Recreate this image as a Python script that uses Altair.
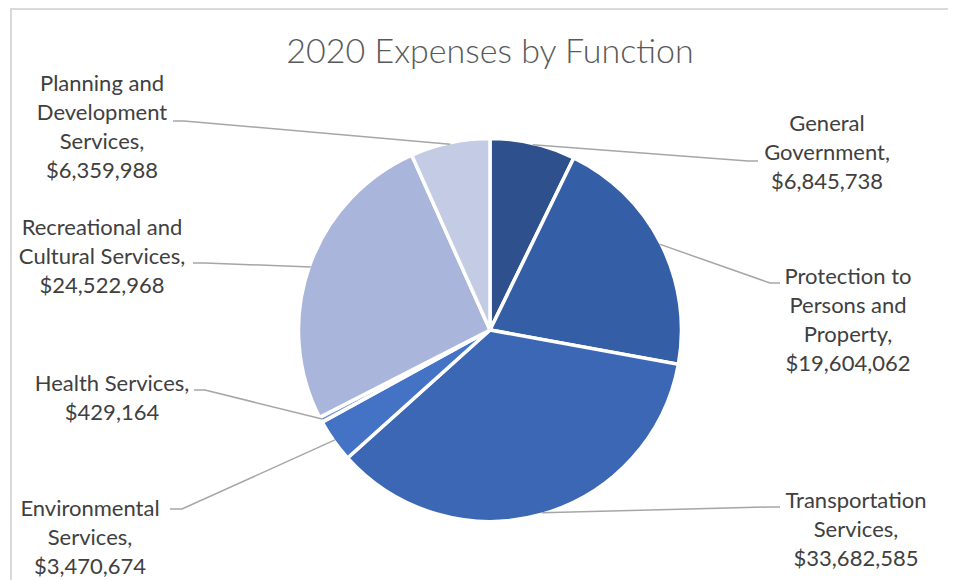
import altair as alt
import pandas as pd
import numpy as np

# ---- data ----
categories = [
    "General Government",
    "Protection to Persons and Property",
    "Transportation Services",
    "Environmental Services",
    "Health Services",
    "Recreational and Cultural Services",
    "Planning and Development Services",
]
values = [6845738, 19604062, 33682585, 3470674, 429164, 24522968, 6359988]
label_lines = [
    ["General", "Government,", "$6,845,738"],
    ["Protection to", "Persons and", "Property,", "$19,604,062"],
    ["Transportation", "Services,", "$33,682,585"],
    ["Environmental", "Services,", "$3,470,674"],
    ["Health Services,", "$429,164"],
    ["Recreational and", "Cultural Services,", "$24,522,968"],
    ["Planning and", "Development", "Services,", "$6,359,988"],
]
colors = ["#2E508D", "#345EA5", "#3B67B5", "#4472C4", "#7A93D0", "#A9B5DA", "#C4CCE5"]
title_text = "2020 Expenses by Function"

# ---- layout (page pixel coordinates) ----
W, H = 940, 572
CX, CY, R = 490, 330, 190
label_cx = [827, 848, 856, 90, 112, 102, 102]
label_y0 = [124, 277, 501, 509, 384, 228, 84]
LINE_H = 29
elbow = [(748, 161), (770, 283), (768, 507), (182, 509), (205, 390), (205, 263), (184, 121)]
line_end = [(758, 161), (780, 283), (780, 507), (170, 509), (194, 390), (193, 263), (173, 121)]

xs = alt.Scale(domain=[8, 8 + W], range=[0, W])
ys = alt.Scale(domain=[8, 8 + H], range=[0, H])

# pie
pie_df = pd.DataFrame({"cat": categories, "value": values, "idx": range(len(values))})
pie = alt.Chart(pie_df).mark_arc(outerRadius=R + 1.5, stroke="white", strokeWidth=3.5).encode(
    theta=alt.Theta("value:Q", stack=True),
    color=alt.Color("cat:N", scale=alt.Scale(domain=categories, range=colors), legend=None),
    order=alt.Order("idx:Q"),
    x=alt.value(CX - 8),
    y=alt.value(CY - 8),
)

# leader lines: start at slice edge (mid-angle), elbow, end near label
total = float(sum(values))
cum = np.cumsum([0] + values[:-1])
rows = []
for i, c in enumerate(categories):
    ang = 2 * np.pi * (cum[i] + values[i] / 2) / total
    sx, sy = CX + R * np.sin(ang), CY - R * np.cos(ang)
    pts = [(sx, sy), elbow[i], line_end[i]]
    for k, (px, py) in enumerate(pts):
        rows.append({"cat": c, "k": k, "px": px, "py": py})
line_df = pd.DataFrame(rows)
leaders = alt.Chart(line_df).mark_line(color="#A6A6A6", strokeWidth=1.5).encode(
    x=alt.X("px:Q", scale=xs, axis=None),
    y=alt.Y("py:Q", scale=ys, axis=None),
    detail="cat:N",
    order="k:Q",
)

# labels
trows = []
for i, lines in enumerate(label_lines):
    for j, t in enumerate(lines):
        trows.append({"t": t, "px": label_cx[i], "py": label_y0[i] + j * LINE_H})
txt_df = pd.DataFrame(trows)
labels = alt.Chart(txt_df).mark_text(
    font="Lato", fontSize=22, color="#404040", align="center", baseline="middle"
).encode(
    x=alt.X("px:Q", scale=xs, axis=None),
    y=alt.Y("py:Q", scale=ys, axis=None),
    text="t:N",
)

title = alt.Chart(pd.DataFrame({"t": [title_text], "px": [490], "py": [63]})).mark_text(
    font="Lato", fontSize=34, fontWeight=300, color="#595959", align="center", baseline="alphabetic"
).encode(
    x=alt.X("px:Q", scale=xs, axis=None),
    y=alt.Y("py:Q", scale=ys, axis=None),
    text="t:N",
)

# chart border (top and left edges visible)
border_top = alt.Chart(pd.DataFrame({"a": [0]})).mark_rule(color="#D9D9D9", strokeWidth=2).encode(
    x=alt.value(3), x2=alt.value(W + 10), y=alt.value(1)
)
border_left = alt.Chart(pd.DataFrame({"a": [0]})).mark_rule(color="#D9D9D9", strokeWidth=2).encode(
    x=alt.value(3), y=alt.value(0), y2=alt.value(H)
)
# white cover along the right edge of the drawing area
cover_right = alt.Chart(pd.DataFrame({"a": [0]})).mark_rule(color="white", strokeWidth=4).encode(
    x=alt.value(W - 1), y=alt.value(2.5), y2=alt.value(H + 5)
)

chart = alt.layer(border_top, border_left, pie, leaders, labels, title, cover_right).properties(
    width=W, height=H, padding=0, autosize=alt.AutoSizeParams(type="none"),
    view=alt.ViewBackground(stroke="transparent", strokeWidth=0),
).configure_view(stroke="transparent", strokeWidth=0)

chart.save("out.html", embed_options={"renderer": "svg", "actions": False})
